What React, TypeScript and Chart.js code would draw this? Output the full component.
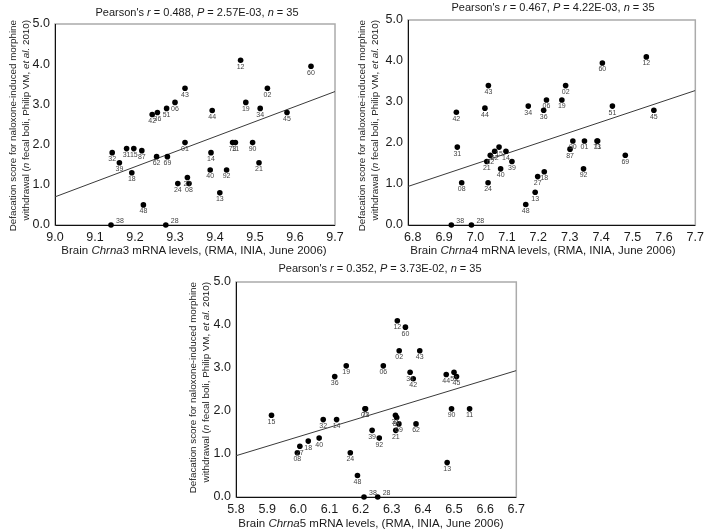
import React, { useEffect, useRef } from "react";
import { Chart, registerables } from "chart.js";
Chart.register(...registerables);

const FONT = '"Liberation Sans", Arial, Helvetica, sans-serif';
Chart.defaults.font.family = FONT;

// ---- data (BXD strains) ----
const strains = ["38","28","48","13","24","08","27","18","40","92","39","21","62","69","32","14","87","31","15","01","73","11","90","42","36","45","44","34","51","06","19","02","43","60","12"];
const defecationScore = [0,0,0.5,0.8,1.03,1.03,1.18,1.3,1.37,1.37,1.55,1.55,1.7,1.7,1.8,1.8,1.85,1.9,1.9,2.05,2.05,2.05,2.05,2.75,2.8,2.8,2.85,2.9,2.9,3.05,3.05,3.4,3.4,3.95,4.1];
const chrna3 = [9.14,9.277,9.221,9.412,9.307,9.335,9.331,9.192,9.388,9.429,9.161,9.51,9.254,9.281,9.143,9.39,9.217,9.179,9.197,9.325,9.444,9.451,9.494,9.243,9.256,9.58,9.393,9.513,9.279,9.3,9.477,9.531,9.325,9.64,9.464];
const chrna4 = [6.923,6.987,7.16,7.19,7.04,6.956,7.198,7.219,7.08,7.344,7.116,7.036,7.047,7.477,7.061,7.097,7.301,6.942,7.075,7.347,7.387,7.389,7.31,6.939,7.217,7.568,7.03,7.168,7.436,7.226,7.275,7.287,7.041,7.404,7.544];
const chrna5 = [6.211,6.255,6.19,6.478,6.167,5.997,6.005,6.032,6.067,6.26,6.237,6.313,6.378,6.323,6.08,6.123,6.316,6.312,5.914,6.214,6.216,6.55,6.492,6.369,6.117,6.508,6.475,6.359,6.5,6.273,6.154,6.324,6.39,6.344,6.318];

const xTicks3 = [9.0,9.1,9.2,9.3,9.4,9.5,9.6,9.7];
const xTicks4 = [6.8,6.9,7.0,7.1,7.2,7.3,7.4,7.5,7.6,7.7];
const xTicks5 = [5.8,5.9,6.0,6.1,6.2,6.3,6.4,6.5,6.6,6.7];
const yTicks = [0,1,2,3,4,5];

const trend3X = [9.0, 9.7];
const trend3Y = [0.70, 3.32];
const trend4X = [6.785, 7.7];
const trend4Y = [0.94, 3.28];
const trend5X = [5.8, 6.7];
const trend5Y = [0.96, 2.94];

const pearsonR = ["0.488", "0.467", "0.352"];
const pValue = ["2.57E-03", "4.22E-03", "3.73E-02"];
const nStrains = 35;

const sideLabelStrains = ["38", "28"];

const panels = [
  { gene: "3", xs: chrna3, xTicks: xTicks3, xMin: 9.0, xMax: 9.7, trendX: trend3X, trendY: trend3Y, r: pearsonR[0], p: pValue[0],
    box: { left: 0, top: 0, width: 350, height: 260 }, area: { l: 55, t: 24, r: 335, b: 225 },
    title: { cx: 197, cy: 12 }, xTitle: { cx: 194, cy: 250 }, yTitle: { x1: 12, top: 20 } },
  { gene: "4", xs: chrna4, xTicks: xTicks4, xMin: 6.785, xMax: 7.7, trendX: trend4X, trendY: trend4Y, r: pearsonR[1], p: pValue[1],
    box: { left: 350, top: 0, width: 359, height: 260 }, area: { l: 58, t: 20, r: 357, b: 225 },
    title: { cx: 553, cy: 7 }, xTitle: { cx: 543, cy: 250 }, yTitle: { x1: 361, top: 20 } },
  { gene: "5", xs: chrna5, xTicks: xTicks5, xMin: 5.8, xMax: 6.7, trendX: trend5X, trendY: trend5Y, r: pearsonR[2], p: pValue[2],
    box: { left: 170, top: 260, width: 360, height: 271 }, area: { l: 66, t: 22, r: 352, b: 237 },
    title: { cx: 380, cy: 268 }, xTitle: { cx: 371, cy: 523 }, yTitle: { x1: 192, top: 282 } },
];

const framePlugin = {
  id: "frame",
  beforeDatasetsDraw(chart: any) {
    const { ctx, chartArea: a } = chart;
    ctx.save();
    ctx.strokeStyle = "#ababab";
    ctx.lineWidth = 1.5;
    ctx.strokeRect(a.left, a.top, a.right - a.left, a.bottom - a.top);
    ctx.strokeStyle = "#111";
    ctx.lineWidth = 1;
    ctx.beginPath();
    ctx.moveTo(a.left + 0.5, a.top);
    ctx.lineTo(a.left + 0.5, a.bottom + 0.5);
    ctx.lineTo(a.right, a.bottom + 0.5);
    ctx.stroke();
    ctx.restore();
  },
};

const labelPlugin = {
  id: "pointLabels",
  afterDatasetsDraw(chart: any) {
    const { ctx } = chart;
    const meta = chart.getDatasetMeta(0);
    ctx.save();
    ctx.font = `7px ${FONT}`;
    ctx.fillStyle = "#444";
    meta.data.forEach((pt: any, i: number) => {
      const lab = strains[i];
      if (sideLabelStrains.includes(lab)) {
        ctx.textAlign = "left";
        ctx.textBaseline = "middle";
        ctx.fillText(lab, pt.x + 5, pt.y - 3.5);
      } else {
        ctx.textAlign = "center";
        ctx.textBaseline = "top";
        ctx.fillText(lab, pt.x, pt.y + 3);
      }
    });
    ctx.restore();
  },
};

function Panel({ cfg }: { cfg: any }) {
  const ref = useRef<HTMLCanvasElement>(null);
  useEffect(() => {
    const { box, area } = cfg;
    const chart = new Chart(ref.current as HTMLCanvasElement, {
      type: "scatter",
      data: {
        datasets: [
          {
            type: "scatter",
            data: cfg.xs.map((x: number, i: number) => ({ x, y: defecationScore[i] })),
            pointRadius: 2.8,
            pointBackgroundColor: "#000",
            pointBorderWidth: 0,
            clip: false,
            order: 1,
          } as any,
          {
            type: "line",
            data: cfg.trendX.map((x: number, i: number) => ({ x, y: cfg.trendY[i] })),
            borderColor: "#3a3a3a",
            borderWidth: 1,
            pointRadius: 0,
            fill: false,
            order: 2,
          } as any,
        ],
      },
      options: {
        responsive: false,
        animation: false,
        events: [],
        layout: { padding: { left: 0, top: area.t, right: box.width - area.r, bottom: 0 } },
        plugins: { legend: { display: false }, tooltip: { enabled: false }, title: { display: false } },
        scales: {
          x: {
            type: "linear",
            min: cfg.xMin,
            max: cfg.xMax,
            grid: { display: false, drawTicks: false },
            border: { display: false },
            ticks: {
              padding: 5,
              color: "#1a1a1a",
              font: { size: 12.5, family: FONT },
              maxRotation: 0,
              autoSkip: false,
              callback: (v: any) => Number(v).toFixed(1),
            },
            afterBuildTicks: (s: any) => { s.ticks = cfg.xTicks.map((v: number) => ({ value: v })); },
            afterFit: (s: any) => { s.height = box.height - area.b; },
          },
          y: {
            type: "linear",
            min: 0,
            max: 5,
            grid: { display: false, drawTicks: false },
            border: { display: false },
            ticks: {
              padding: 5,
              color: "#1a1a1a",
              font: { size: 12.5, family: FONT },
              callback: (v: any) => Number(v).toFixed(1),
            },
            afterBuildTicks: (s: any) => { s.ticks = yTicks.map((v: number) => ({ value: v })); },
            afterFit: (s: any) => { s.width = area.l; },
          },
        },
      } as any,
      plugins: [framePlugin, labelPlugin],
    });
    return () => chart.destroy();
  }, []);

  const { box, title, xTitle, yTitle } = cfg;
  const W = 230;
  return (
    <>
      <canvas
        ref={ref}
        width={box.width}
        height={box.height}
        style={{ position: "absolute", left: box.left, top: box.top, width: box.width, height: box.height }}
      />
      <div style={{ position: "absolute", left: title.cx - 200, top: title.cy - 7, width: 400, textAlign: "center", fontSize: 11, lineHeight: "14px", color: "#1a1a1a", whiteSpace: "nowrap" }}>
        Pearson's <i>r</i> = {cfg.r}, <i>P</i> = {cfg.p}, <i>n</i> = {nStrains}
      </div>
      <div style={{ position: "absolute", left: xTitle.cx - 200, top: xTitle.cy - 7, width: 400, textAlign: "center", fontSize: 11.5, lineHeight: "14px", color: "#1a1a1a", whiteSpace: "nowrap" }}>
        Brain <i>Chrna</i>{cfg.gene} mRNA levels, (RMA, INIA, June 2006)
      </div>
      <div style={{ position: "absolute", left: yTitle.x1 - 6.5, top: yTitle.top + W, width: W, textAlign: "right", fontSize: 9.8, lineHeight: "13px", color: "#1a1a1a", whiteSpace: "nowrap", transformOrigin: "top left", transform: "rotate(-90deg)" }}>
        <div>Defacation score for naloxone-induced morphine</div>
        <div>withdrawal (<i>n</i> fecal boli, Philip VM, <i>et al.</i> 2010)</div>
      </div>
    </>
  );
}

export default function App() {
  return (
    <div style={{ position: "absolute", left: 0, top: 0, width: 709, height: 531, background: "#fff", fontFamily: FONT, overflow: "hidden" }}>
      {panels.map((p, i) => (
        <Panel key={i} cfg={p} />
      ))}
    </div>
  );
}
